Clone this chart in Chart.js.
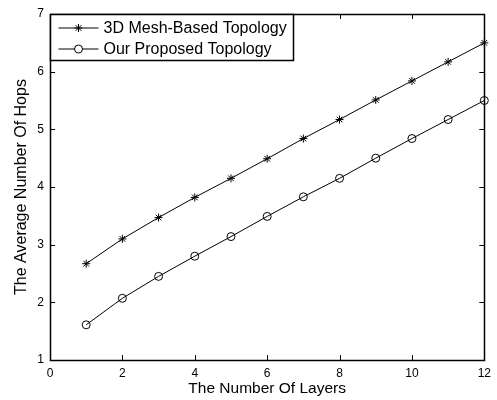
<!DOCTYPE html>
<html>
<head>
<meta charset="utf-8">
<script src="https://cdn.jsdelivr.net/npm/chart.js@4.4.1/dist/chart.umd.min.js"></script>
<style>
  html, body { margin: 0; padding: 0; background: #fff; }
  #wrap { width: 497px; height: 400px; position: relative; }
</style>
</head>
<body>
<div id="wrap"><canvas id="c" width="497" height="400"></canvas></div>
<script>
const layers = [1, 2, 3, 4, 5, 6, 7, 8, 9, 10, 11, 12];
const meshHops = [2.67, 3.10, 3.47, 3.82, 4.15, 4.49, 4.84, 5.17, 5.51, 5.84, 6.17, 6.50];
const proposedHops = [1.61, 2.07, 2.45, 2.80, 3.14, 3.49, 3.83, 4.15, 4.50, 4.84, 5.17, 5.50];
const xTicks = [0, 2, 4, 6, 8, 10, 12];
const yTicks = [1, 2, 3, 4, 5, 6, 7];
const seriesNames = ['3D Mesh-Based Topology', 'Our Proposed Topology'];
const xTitle = 'The Number Of Layers';
const yTitle = 'The Average Number Of Hops';

const FONT = 'Liberation Sans, Arial, Helvetica, sans-serif';

function toPoints(xs, ys) { return xs.map((x, i) => ({ x: x, y: ys[i] })); }

const frameTicks = {
  id: 'frameTicks',
  afterDatasetsDraw(chart) {
    const ctx = chart.ctx, a = chart.chartArea;
    const sx = chart.scales.x, sy = chart.scales.y;
    const L = 5;
    ctx.save();
    ctx.strokeStyle = '#000';
    ctx.lineWidth = 1;
    ctx.beginPath();
    xTicks.forEach(v => {
      const p = Math.round(sx.getPixelForValue(v)) + 0.5;
      ctx.moveTo(p, a.bottom); ctx.lineTo(p, a.bottom - L);
      ctx.moveTo(p, a.top); ctx.lineTo(p, a.top + L);
    });
    yTicks.forEach(v => {
      const p = Math.round(sy.getPixelForValue(v)) + 0.5;
      ctx.moveTo(a.left, p); ctx.lineTo(a.left + L, p);
      ctx.moveTo(a.right, p); ctx.lineTo(a.right - L, p);
    });
    ctx.stroke();
    ctx.lineWidth = 1.5;
    ctx.strokeRect(Math.round(a.left) + 0.5, Math.round(a.top) + 0.5,
                   Math.round(a.right - a.left), Math.round(a.bottom - a.top));
    ctx.restore();
  },
  afterDraw(chart) {
    const ctx = chart.ctx, a = chart.chartArea;
    const x0 = Math.round(a.left) + 0.5, y0 = Math.round(a.top) + 0.5;
    const w = 243, h = 46;
    ctx.save();
    ctx.fillStyle = '#fff';
    ctx.fillRect(x0, y0, w, h);
    ctx.strokeStyle = '#000';
    ctx.lineWidth = 1.5;
    ctx.strokeRect(x0, y0, w, h);
    ctx.lineWidth = 1;
    ctx.font = '16px ' + FONT;
    ctx.textBaseline = 'middle';
    chart.data.datasets.forEach((ds, i) => {
      const cy = y0 + 13.5 + i * 21;
      const lx1 = x0 + 8, lx2 = x0 + 48, mx = (lx1 + lx2) / 2;
      ctx.beginPath();
      ctx.moveTo(lx1, cy); ctx.lineTo(lx2, cy);
      ctx.stroke();
      ctx.fillStyle = '#fff';
      Chart.helpers.drawPoint(ctx, {
        pointStyle: ds.pointStyle, radius: ds.pointRadius, borderWidth: 1
      }, mx, cy);
      ctx.fillStyle = '#000';
      ctx.fillText(ds.label, x0 + 53, cy + 1);
    });
    ctx.restore();
  }
};

new Chart(document.getElementById('c'), {
  type: 'line',
  data: {
    datasets: [
      {
        label: seriesNames[0],
        data: toPoints(layers, meshHops),
        borderColor: '#000', backgroundColor: '#000', borderWidth: 1,
        pointStyle: 'star', pointRadius: 4, pointBorderWidth: 1,
        pointBorderColor: '#000', pointBackgroundColor: 'rgba(0,0,0,0)',
        tension: 0, clip: false
      },
      {
        label: seriesNames[1],
        data: toPoints(layers, proposedHops),
        borderColor: '#000', backgroundColor: '#000', borderWidth: 1,
        pointStyle: 'circle', pointRadius: 4, pointBorderWidth: 1,
        pointBorderColor: '#000', pointBackgroundColor: 'rgba(0,0,0,0)',
        tension: 0, clip: false
      }
    ]
  },
  options: {
    responsive: false,
    animation: false,
    devicePixelRatio: 1,
    layout: { padding: { left: 0, top: 14, right: 9, bottom: 0 } },
    plugins: { legend: { display: false }, tooltip: { enabled: false } },
    scales: {
      x: {
        type: 'linear', min: 0, max: 12,
        afterBuildTicks: s => { s.ticks = xTicks.map(v => ({ value: v })); },
        afterFit: s => { s.height = 40; },
        grid: { display: false, drawTicks: false },
        border: { display: false },
        ticks: { color: '#000', font: { family: FONT, size: 12 }, padding: 6, maxRotation: 0 },
        title: { display: true, text: xTitle, color: '#000',
                 font: { family: FONT, size: 15.5 }, padding: { top: 0, bottom: 2 } }
      },
      y: {
        type: 'linear', min: 1, max: 7,
        afterBuildTicks: s => { s.ticks = yTicks.map(v => ({ value: v })); },
        afterFit: s => { s.width = 50; },
        grid: { display: false, drawTicks: false },
        border: { display: false },
        ticks: { color: '#000', font: { family: FONT, size: 12 }, padding: 6 },
        title: { display: true, text: yTitle, color: '#000',
                 font: { family: FONT, size: 16 }, padding: { top: 12, bottom: 0 } }
      }
    }
  },
  plugins: [frameTicks]
});
</script>
</body>
</html>
